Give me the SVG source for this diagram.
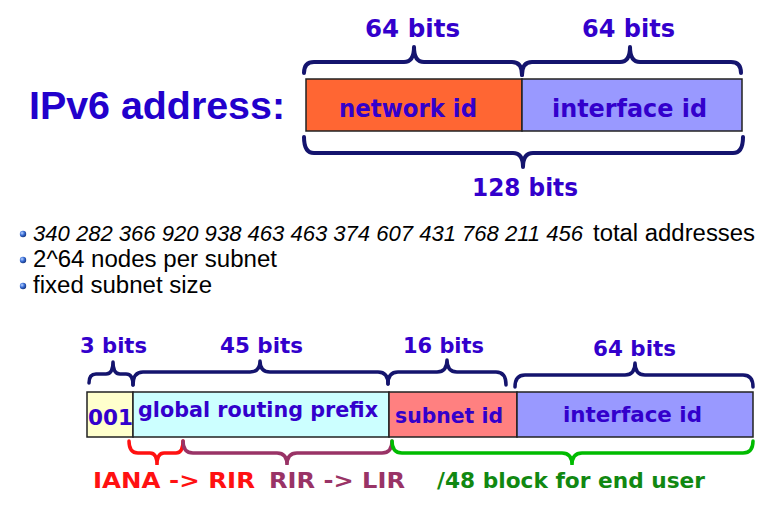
<svg xmlns="http://www.w3.org/2000/svg" width="772" height="508" viewBox="0 0 772 508">
<defs>
<radialGradient id="ball" cx="0.35" cy="0.35" r="0.7">
<stop offset="0" stop-color="#bcd4ff"/>
<stop offset="0.5" stop-color="#3a6fd8"/>
<stop offset="1" stop-color="#14337a"/>
</radialGradient>
<style>
.lbl{font-family:"DejaVu Sans","Liberation Sans",sans-serif;font-weight:bold;fill:#3300CC}
.big{font-size:24px}
.sm{font-size:21.5px}
.brace{fill:none;stroke:#14146e;stroke-linecap:round;stroke-linejoin:round}
.cell{stroke:#222;stroke-width:1.5}
.bul{font-family:"Liberation Sans",Arial,sans-serif;font-size:23.5px;fill:#000}
</style>
</defs>
<rect width="772" height="508" fill="#fff"/>

<g id="title">
<text x="29" y="119" font-family="Liberation Sans,Arial,sans-serif" font-weight="bold" font-size="39" fill="#2200CC" textLength="256" lengthAdjust="spacingAndGlyphs">IPv6 address:</text>
</g>

<g id="top-network">
<rect class="cell" x="306" y="79" width="216" height="52" fill="#FF6633"/>
<text class="lbl big" x="339" y="117" textLength="138" lengthAdjust="spacingAndGlyphs">network id</text>
</g>
<g id="top-interface">
<rect class="cell" x="522" y="79" width="220" height="52" fill="#9999FF"/>
<text class="lbl big" x="552" y="117" textLength="155" lengthAdjust="spacingAndGlyphs">interface id</text>
</g>

<g id="top-braces">
<path class="brace" stroke-width="4" d="M304,73 Q304,62 314,62 L404,62 Q414,62 414,47 Q414,62 424,62 L512,62 Q522,62 522,75"/>
<path class="brace" stroke-width="4" d="M522,75 Q522,62 532,62 L620,62 Q630,62 630,47 Q630,62 640,62 L731,62 Q741,62 741,73"/>
<path class="brace" stroke-width="4" d="M304,137 Q304,153 314,153 L513,153 Q523,153 523,167 Q523,153 533,153 L733,153 Q743,153 743,137"/>
<text class="lbl big" x="365" y="37" textLength="95" lengthAdjust="spacingAndGlyphs">64 bits</text>
<text class="lbl big" x="582" y="37" textLength="93" lengthAdjust="spacingAndGlyphs">64 bits</text>
<text class="lbl big" x="472" y="196" textLength="106" lengthAdjust="spacingAndGlyphs">128 bits</text>
</g>

<g id="bullets">
<circle cx="23" cy="234" r="3.2" fill="url(#ball)"/>
<circle cx="23" cy="260" r="3.2" fill="url(#ball)"/>
<circle cx="23" cy="286" r="3.2" fill="url(#ball)"/>
<text class="bul" x="33" y="241" font-style="italic" style="font-size:21.8px" textLength="550" lengthAdjust="spacingAndGlyphs">340 282 366 920 938 463 463 374 607 431 768 211 456</text>
<text class="bul" x="593" y="241" textLength="162" lengthAdjust="spacingAndGlyphs">total addresses</text>
<text class="bul" x="33" y="267" textLength="244" lengthAdjust="spacingAndGlyphs">2^64 nodes per subnet</text>
<text class="bul" x="33" y="293" textLength="179" lengthAdjust="spacingAndGlyphs">fixed subnet size</text>
</g>

<g id="cell-001">
<rect class="cell" x="87" y="392" width="46" height="45" fill="#FFFFCC"/>
<text class="lbl sm" x="88" y="425" textLength="45" lengthAdjust="spacingAndGlyphs">001</text>
</g>
<g id="cell-global">
<rect class="cell" x="133" y="392" width="256" height="45" fill="#CCFFFF"/>
<text class="lbl sm" x="138" y="417" textLength="240" lengthAdjust="spacingAndGlyphs">global routing prefix</text>
</g>
<g id="cell-subnet">
<rect class="cell" x="389" y="392" width="128" height="45" fill="#FF8080"/>
<text class="lbl sm" x="395" y="423" textLength="108" lengthAdjust="spacingAndGlyphs">subnet id</text>
</g>
<g id="cell-interface">
<rect class="cell" x="517" y="392" width="236" height="45" fill="#9999FF"/>
<text class="lbl sm" x="563" y="422" textLength="139" lengthAdjust="spacingAndGlyphs">interface id</text>
</g>

<g id="connectors">
<path class="brace" stroke-width="3.5" d="M89,383 Q89,374 96,374 L106,374 Q113,374 113,362 Q113,374 120,374 L126,374 Q133,374 133,385"/>
<path class="brace" stroke-width="3.5" d="M133,385 Q133,372 143,372 L250,372 Q260,372 260,361 Q260,372 270,372 L378,372 Q388,372 388,384"/>
<path class="brace" stroke-width="3.5" d="M388,384 Q388,372 398,372 L437,372 Q447,372 447,360 Q447,372 457,372 L496,372 Q506,372 506,385"/>
<path class="brace" stroke-width="3.5" d="M515,387 Q515,375 525,375 L625,375 Q635,375 635,363 Q635,375 645,375 L743,375 Q753,375 753,387"/>
<path fill="none" stroke="#FF1111" stroke-width="3.5" stroke-linecap="round" d="M129,441 Q129,453 138,453 L150,453 Q157,453 157,465 Q157,453 164,453 L176,453 Q183,453 183,441"/>
<path fill="none" stroke="#993366" stroke-width="3.5" stroke-linecap="round" d="M183,441 Q183,453 193,453 L277,453 Q287,453 287,465 Q287,453 297,453 L382,453 Q392,453 392,441"/>
<path fill="none" stroke="#00BB00" stroke-width="3.5" stroke-linecap="round" d="M392,441 Q392,453 402,453 L562,453 Q572,453 572,465 Q572,453 582,453 L743,453 Q753,453 753,441"/>
</g>

<g id="bit-labels">
<text class="lbl sm" x="80" y="353" textLength="67" lengthAdjust="spacingAndGlyphs">3 bits</text>
<text class="lbl sm" x="220" y="353" textLength="83" lengthAdjust="spacingAndGlyphs">45 bits</text>
<text class="lbl sm" x="403" y="353" textLength="81" lengthAdjust="spacingAndGlyphs">16 bits</text>
<text class="lbl sm" x="593" y="356" textLength="83" lengthAdjust="spacingAndGlyphs">64 bits</text>
</g>

<g id="bottom-labels">
<text class="lbl sm" x="93" y="488" style="fill:#FF1111" textLength="162" lengthAdjust="spacingAndGlyphs">IANA -&gt; RIR</text>
<text class="lbl sm" x="269" y="488" style="fill:#993366" textLength="136" lengthAdjust="spacingAndGlyphs">RIR -&gt; LIR</text>
<text class="lbl sm" x="437" y="488" style="fill:#118811" textLength="268" lengthAdjust="spacingAndGlyphs">/48 block for end user</text>
</g>
</svg>
